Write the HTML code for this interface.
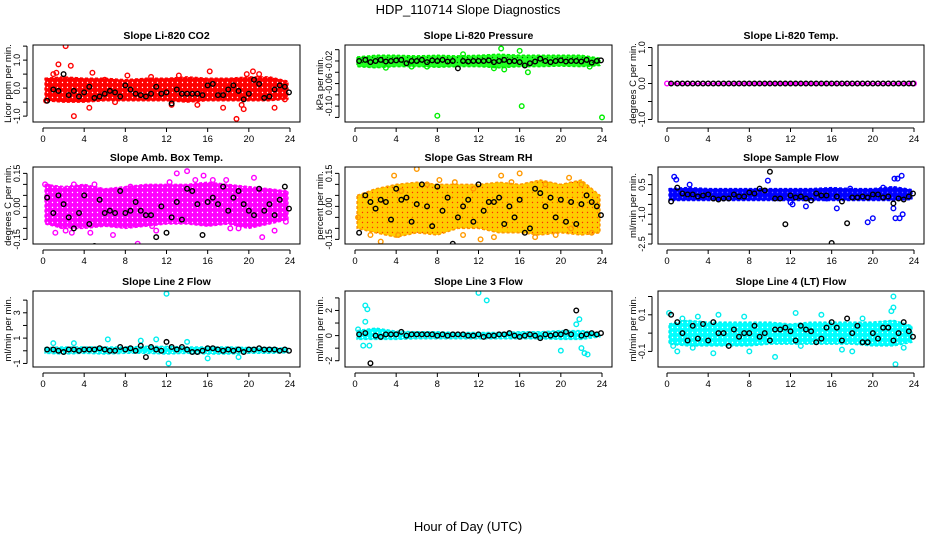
<!DOCTYPE html>
<html><head><meta charset="utf-8"><style>
html,body{margin:0;padding:0;background:#fff}
svg{display:block;font-family:"Liberation Sans",sans-serif}
</style></head><body>
<svg id="chart" width="936" height="540" viewBox="0 0 936 540" xmlns="http://www.w3.org/2000/svg">
<defs id="defs"></defs>
<text x="468" y="14" text-anchor="middle" font-size="13">HDP_110714  Slope Diagnostics</text>
<text x="468" y="531" text-anchor="middle" font-size="13">Hour of Day (UTC)</text>
</svg>
<script>
const xTicks = [0,4,8,12,16,20,24];
const bandHours = [0.2,2,4,6,8,10,12,14,16,18,20,22,23.8];
const blackHours = [0.4,1.0,1.5,2.0,2.5,3.0,3.5,4.0,4.5,5.0,5.5,6.0,6.5,7.0,7.5,8.0,8.5,9.0,9.5,10.0,10.5,11.0,11.5,12.0,12.5,13.0,13.5,14.0,14.5,15.0,15.5,16.0,16.5,17.0,17.5,18.0,18.5,19.0,19.5,20.0,20.5,21.0,21.5,22.0,22.5,23.0,23.5,23.9];

const titles = ["Slope Li-820 CO2","Slope Li-820 Pressure","Slope Li-820 Temp.","Slope Amb. Box Temp.","Slope Gas Stream RH","Slope Sample Flow","Slope Line 2 Flow","Slope Line 3 Flow","Slope Line 4 (LT) Flow"];
const yTitles = ["Licor ppm per min.","kPa per min.","degrees C per min.","degrees C per min.","percent per min.","ml/min per min.","ml/min per min.","ml/min per min.","ml/min per min."];
const yTickVals = [[-1,-0.5,0,0.5,1,1.5],[-0.12,-0.1,-0.08,-0.06,-0.04,-0.02,0],[-1,-0.5,0,0.5,1],[-0.15,-0.1,-0.05,0,0.05,0.1,0.15],[-0.15,-0.1,-0.05,0,0.05,0.1,0.15],[-2.5,-2,-1.5,-1,-0.5,0,0.5,1],[-1,0,1,2,3,4],[-2,-1,0,1,2,3],[-0.1,0,0.1,0.2]];
const yTickLabels = [[["1.0",1],["0.0",0],["-1.0",-1]],[["-0.02",-0.02],["-0.06",-0.06],["-0.10",-0.1]],[["1.0",1],["0.0",0],["-1.0",-1]],[["0.15",0.15],["0.00",0],["-0.15",-0.15]],[["0.15",0.15],["0.00",0],["-0.15",-0.15]],[["0.5",0.5],["-1.0",-1],["-2.5",-2.5]],[["3",3],["1",1],["-1",-1]],[["2",2],["0",0],["-2",-2]],[["0.1",0.1],["-0.1",-0.1]]];

const bandLo1=[-0.45,-0.5,-0.5,-0.45,-0.45,-0.45,-0.45,-0.5,-0.45,-0.45,-0.45,-0.45,-0.4];
const bandHi1=[0.35,0.4,0.35,0.35,0.3,0.35,0.35,0.4,0.35,0.35,0.4,0.4,0.25];
const bandLo2=[-0.03,-0.032,-0.03,-0.03,-0.031,-0.03,-0.03,-0.032,-0.03,-0.03,-0.029,-0.03,-0.028];
const bandHi2=[-0.013,-0.01,-0.01,-0.011,-0.01,-0.011,-0.01,-0.008,-0.01,-0.01,-0.01,-0.01,-0.015];
const bandLo3=[-0.03,-0.03,-0.03,-0.03,-0.03,-0.03,-0.03,-0.03,-0.03,-0.03,-0.03,-0.03,-0.03];
const bandHi3=[0.03,0.03,0.03,0.03,0.03,0.03,0.03,0.03,0.03,0.03,0.03,0.03,0.03];
const bandLo4=[-0.08,-0.1,-0.1,-0.09,-0.1,-0.09,-0.08,-0.08,-0.09,-0.08,-0.1,-0.08,-0.06];
const bandHi4=[0.1,0.09,0.1,0.08,0.09,0.1,0.1,0.1,0.11,0.1,0.09,0.08,0.07];
const bandLo5=[-0.1,-0.12,-0.14,-0.12,-0.13,-0.1,-0.1,-0.12,-0.12,-0.13,-0.12,-0.13,-0.12];
const bandHi5=[0.05,0.08,0.1,0.11,0.1,0.1,0.1,0.11,0.1,0.12,0.1,0.12,0.05];
const bandLo6=[-0.3,-0.3,-0.3,-0.3,-0.3,-0.3,-0.3,-0.3,-0.3,-0.3,-0.3,-0.3,-0.25];
const bandHi6=[0.3,0.35,0.3,0.3,0.3,0.3,0.3,0.3,0.35,0.3,0.3,0.4,0.25];
const bandLo7=[-0.2,-0.25,-0.2,-0.25,-0.2,-0.2,-0.25,-0.2,-0.25,-0.25,-0.2,-0.2,-0.15];
const bandHi7=[0.25,0.3,0.3,0.3,0.3,0.35,0.35,0.3,0.3,0.3,0.25,0.25,0.2];
const bandLo8=[-0.3,-0.3,-0.3,-0.25,-0.25,-0.25,-0.25,-0.25,-0.25,-0.25,-0.3,-0.3,-0.1];
const bandHi8=[0.4,0.6,0.35,0.3,0.3,0.25,0.25,0.25,0.3,0.3,0.4,0.4,0.2];
const bandLo9=[-0.06,-0.07,-0.07,-0.07,-0.07,-0.06,-0.06,-0.06,-0.06,-0.06,-0.07,-0.07,-0.05];
const bandHi9=[0.05,0.07,0.06,0.06,0.06,0.06,0.05,0.06,0.06,0.06,0.06,0.07,0.04];

const ptH1=[1.5,1.3,2.2,2.7,3.0,4.5,4.8,2.4,8.2,13.2,16.2,15.0,17.5,18.8,19.3,19.5,22.5,23.5,12.5,0.3,10.5,21.0,19.8,7.0,11.0,20.4,6.0,1.0];
const ptV1=[0.85,0.55,1.5,0.8,-1.0,-0.7,0.55,-0.35,0.45,0.45,0.6,-0.6,-0.7,-1.1,-0.6,-0.75,-0.7,-0.4,-0.6,-0.45,0.4,0.5,0.5,-0.5,-0.3,0.6,0.3,0.5];
const ptH2=[8.0,16.2,24.0,16.0,10.5,14.2,16.8,14.5,13.5,22.8,7.0,3.0,5.5];
const ptV2=[-0.117,-0.1,-0.12,-0.002,-0.008,0.002,-0.04,-0.035,-0.033,-0.03,-0.03,-0.032,-0.03];
const ptH3=[0.0,24.0];
const ptV3=[0,0];
const ptH4=[0.2,0.5,1.2,1.8,2.2,3.0,4.6,5.0,6.8,9.2,10.6,12.3,13.0,14.0,14.8,15.6,16.5,17.8,19.0,20.5,21.3,22.5,3.3,8.5,11.0,18.2,2.8,23.6];
const ptV4=[0.1,0.09,-0.12,-0.09,-0.11,0.1,-0.12,0.1,-0.13,-0.17,-0.09,0.11,0.15,0.16,0.12,0.14,0.12,0.12,-0.1,0.13,-0.14,-0.11,0.08,0.09,-0.11,-0.1,-0.12,-0.07];
const ptH5=[0.3,1.5,2.5,3.8,4.5,6.0,7.0,8.2,9.7,10.5,11.5,12.2,13.5,15.2,16.0,17.5,18.5,19.5,20.8,22.0,23.0,4.2,14.2,21.0];
const ptV5=[-0.05,-0.13,-0.16,0.14,0.07,0.17,0.1,0.12,0.11,-0.13,0.08,-0.15,-0.14,0.11,0.15,-0.14,0.1,-0.13,0.13,0.1,-0.12,-0.13,0.14,-0.1];
const ptH6=[0.7,0.9,2.2,9.8,12.2,13.5,15.5,16.5,19.5,20.0,22.1,22.4,22.8,22.0,22.2,22.6,22.9,17.8,21.0,12.0];
const ptV6=[0.9,0.75,0.5,0.7,-0.5,-0.6,-0.2,-0.7,-1.4,-1.2,0.8,0.8,0.95,-0.7,-1.2,-1.2,-1.0,0.3,0.35,-0.4];
const ptH7=[12.0,12.2,11.0,1.0,3.0,9.5,16.0,19.0,14.0,6.3];
const ptV7=[4.5,-1.0,0.9,0.6,0.6,0.8,-0.6,-0.5,0.7,0.9];
const ptH8=[1.0,1.2,1.0,1.4,0.8,12.0,12.8,21.5,22.0,22.3,22.6,20.0,0.3,21.8];
const ptV8=[2.4,2.1,1.1,-0.8,-0.8,3.4,2.8,0.9,-1.0,-1.4,-1.5,-1.2,0.5,1.3];
const ptH9=[0.2,0.6,1.0,1.5,2.5,4.5,5.0,7.5,8.0,10.5,12.5,13.0,15.0,17.0,19.0,22.0,22.2,22.0,21.8,23.0,18.0,3.0];
const ptV9=[0.11,-0.07,-0.1,0.08,-0.08,-0.11,0.1,0.09,-0.1,-0.13,0.11,-0.07,0.1,-0.09,0.08,0.2,-0.17,0.14,0.12,-0.08,-0.1,0.09];

const blk1=[-0.45,-0.05,-0.1,0.5,-0.25,-0.1,-0.3,-0.15,0.05,-0.35,-0.3,-0.2,-0.1,-0.15,-0.3,0.1,-0.05,-0.2,-0.25,-0.3,-0.2,0.05,-0.2,-0.15,-0.55,-0.05,-0.2,-0.2,-0.2,-0.2,-0.25,0.1,0.15,-0.25,-0.25,-0.05,0.1,-0.1,-0.4,-0.2,0.3,0.15,-0.35,-0.3,-0.05,0.1,0.05,-0.15];
const blk2=[-0.02,-0.018,-0.022,-0.02,-0.018,-0.021,-0.02,-0.019,-0.018,-0.024,-0.02,-0.02,-0.018,-0.022,-0.019,-0.02,-0.018,-0.021,-0.02,-0.033,-0.02,-0.021,-0.02,-0.02,-0.02,-0.019,-0.022,-0.02,-0.018,-0.021,-0.02,-0.022,-0.028,-0.024,-0.021,-0.016,-0.02,-0.022,-0.02,-0.019,-0.021,-0.02,-0.02,-0.021,-0.018,-0.023,-0.02,-0.019];
const blk3=[0,0,0,0,0,0,0,0,0,0,0,0,0,0,0,0,0,0,0,0,0,0,0,0,0,0,0,0,0,0,0,0,0,0,0,0,0,0,0,0,0,0,0,0,0,0,0,0];
const blk4=[0.04,-0.03,0.05,0.01,-0.05,-0.1,-0.03,0.05,-0.08,-0.18,0.03,-0.03,-0.02,-0.03,0.07,-0.03,-0.02,0.02,-0.02,-0.04,-0.04,-0.14,0.0,-0.12,-0.05,0.02,-0.06,0.08,0.07,0.01,-0.13,0.02,0.04,0.01,0.09,-0.02,0.04,0.07,0.01,-0.02,-0.04,0.08,-0.02,0.01,-0.04,0.03,0.09,-0.01];
const blk5=[-0.12,0.05,0.02,-0.01,0.03,0.02,-0.06,0.08,0.03,0.04,-0.07,0.01,0.1,0.0,-0.09,0.09,-0.02,0.04,-0.17,-0.05,0.0,0.03,-0.07,0.1,-0.02,0.02,0.02,0.04,-0.08,0.0,-0.05,0.03,-0.12,-0.1,0.08,0.06,0.0,0.04,-0.05,0.03,-0.07,0.02,-0.08,0.01,0.05,0.02,0.0,-0.04];
const blk6=[-0.35,0.35,0.05,0.0,0.0,-0.1,-0.05,0.0,-0.2,-0.25,-0.2,-0.2,0.0,-0.1,-0.1,0.1,0.05,0.3,0.2,1.15,-0.2,-0.2,-1.5,-0.05,-0.15,-0.1,-0.2,-0.3,0.05,-0.05,-0.05,-2.45,-0.1,-0.35,-1.45,-0.15,-0.15,-0.1,-0.15,0.0,0.0,-0.15,-0.1,-0.45,-0.2,-0.25,-0.1,0.05];
const blk7=[0.1,0.1,0.0,-0.1,0.1,0.1,0.0,0.1,0.1,0.1,0.2,0.1,0.0,0.0,0.3,0.1,0.2,0.0,0.4,-0.5,0.3,0.1,0.0,0.7,0.3,0.1,0.3,0.1,-0.1,-0.1,0.0,0.2,0.2,0.1,0.0,0.1,0.0,0.1,-0.1,0.1,0.1,0.2,0.1,0.1,0.1,0.0,0.1,0.0];
const blk8=[0.1,0.2,-2.2,0.0,-0.1,0.1,0.1,0.1,0.3,0.0,0.1,0.1,0.1,0.1,0.1,0.0,0.1,0.0,0.1,0.1,0.1,0.0,0.0,0.1,-0.1,0.0,0.0,0.1,0.1,0.2,0.0,-0.1,0.0,0.1,0.0,-0.2,0.1,0.0,0.1,0.1,0.3,0.1,2.0,0.0,0.1,0.2,0.1,0.2];
const blk9=[0.1,0.06,0.0,-0.04,0.04,-0.03,0.05,-0.04,0.06,0.0,0.0,-0.07,0.02,-0.02,0.0,0.0,0.04,-0.02,0.0,-0.04,0.02,0.02,0.03,0.01,-0.04,0.04,0.02,0.01,-0.05,-0.03,0.03,0.06,0.03,-0.04,0.08,0.0,0.04,-0.05,-0.05,0.0,-0.03,0.03,0.03,-0.04,0.0,0.06,0.01,-0.02];

const bandLos=[bandLo1,bandLo2,bandLo3,bandLo4,bandLo5,bandLo6,bandLo7,bandLo8,bandLo9];
const bandHis=[bandHi1,bandHi2,bandHi3,bandHi4,bandHi5,bandHi6,bandHi7,bandHi8,bandHi9];
const ptHs=[ptH1,ptH2,ptH3,ptH4,ptH5,ptH6,ptH7,ptH8,ptH9];
const ptVs=[ptV1,ptV2,ptV3,ptV4,ptV5,ptV6,ptV7,ptV8,ptV9];
const blks=[blk1,blk2,blk3,blk4,blk5,blk6,blk7,blk8,blk9];

const layout=[
 {l:33,r:300,t:45,b:122,x0:43,x1:290,ymin:-1.21,ymax:1.54,c:"#ff0000",f:"#ff0000",d:"#ffffff"},
 {l:345,r:612,t:45,b:122,x0:355,x1:602,ymin:-0.1281,ymax:0.0083,c:"#00ee00",f:"#22ff22",d:"#006600"},
 {l:658,r:924,t:45,b:122,x0:667,x1:914,ymin:-1.07,ymax:1.07,c:"#ff00ff",f:"#ff00ff",d:"#ffffff"},
 {l:33,r:300,t:167,b:244,x0:43,x1:290,ymin:-0.171,ymax:0.179,c:"#ff00ff",f:"#ff00ff",d:"#ffffff"},
 {l:345,r:612,t:167,b:244,x0:355,x1:602,ymin:-0.171,ymax:0.179,c:"#ff9900",f:"#ffcc00",d:"#ff3300"},
 {l:658,r:924,t:167,b:244,x0:667,x1:914,ymin:-2.5,ymax:1.39,c:"#0000ff",f:"#0000ff",d:"#6666ff"},
 {l:33,r:300,t:291,b:367,x0:43,x1:290,ymin:-1.28,ymax:4.72,c:"#00eeee",f:"#00ffff",d:"#ffffff"},
 {l:345,r:612,t:291,b:367,x0:355,x1:602,ymin:-2.5,ymax:3.55,c:"#00eeee",f:"#00ffff",d:"#ffffff"},
 {l:658,r:924,t:291,b:367,x0:667,x1:914,ymin:-0.185,ymax:0.23,c:"#00eeee",f:"#00ffff",d:"#ffffff"}
];
const NS="http://www.w3.org/2000/svg";
const svg=document.getElementById('chart');
const defs=document.getElementById('defs');
function mk(tag,attrs,parent){const e=document.createElementNS(NS,tag);for(const k in attrs)e.setAttribute(k,attrs[k]);(parent||svg).appendChild(e);return e;}

layout.forEach((L,i)=>{
  const pat=mk('pattern',{id:'pat'+i,width:5,height:5,patternUnits:'userSpaceOnUse'},defs);
  mk('rect',{x:0,y:0,width:5,height:5,fill:L.f},pat);
  mk('circle',{cx:2.5,cy:2.5,r:0.7,fill:L.d},pat);
  const g=mk('g',{});
  
  
  const xs=h=>L.x0+(L.x1-L.x0)*h/24;
  const ys=v=>L.b-(v-L.ymin)/(L.ymax-L.ymin)*(L.b-L.t);
  const clip=mk('clipPath',{id:'clip'+i},g);
  mk('rect',{x:L.l,y:L.t,width:L.r-L.l,height:L.b-L.t},clip);
  const pg=mk('g',{'clip-path':'url(#clip'+i+')'},g);
  let pts=[];
  bandHours.forEach((h,k)=>pts.push(xs(h).toFixed(1)+','+ys(bandHis[i][k]).toFixed(1)));
  for(let k=bandHours.length-1;k>=0;k--)pts.push(xs(bandHours[k]).toFixed(1)+','+ys(bandLos[i][k]).toFixed(1));
  const band=mk('polygon',{points:pts.join(' '),fill:'url(#pat'+i+')',stroke:L.c,'stroke-width':1.5,'stroke-dasharray':'3 2','stroke-linejoin':'round'},pg);
  
  
  ptHs[i].forEach((h,k)=>{
    const c=mk('circle',{cx:xs(h),cy:ys(ptVs[i][k]),r:2.3,fill:'none',stroke:L.c,'stroke-width':1.4},pg);
    
    
  });
  blackHours.forEach((h,k)=>{
    const c=mk('circle',{cx:xs(h),cy:ys(blks[i][k]),r:2.3,fill:'none',stroke:'#000','stroke-width':1.4},pg);
    
    
  });
  const box=mk('rect',{x:L.l,y:L.t,width:L.r-L.l,height:L.b-L.t,fill:'none',stroke:'#000','stroke-width':1},g);
  
  
  const t=mk('text',{x:(L.l+L.r)/2,y:L.t-6,'text-anchor':'middle','font-size':10.5,'font-weight':'bold'},g);
  t.textContent=titles[i];
  
  
  mk('line',{x1:xs(0),x2:xs(24),y1:L.b+6,y2:L.b+6,stroke:'#000'},g);
  xTicks.forEach(h=>{
    mk('line',{x1:xs(h),x2:xs(h),y1:L.b+6,y2:L.b+10,stroke:'#000'},g);
    const tx=mk('text',{x:xs(h),y:L.b+20,'text-anchor':'middle','font-size':9.5},g);
    tx.textContent=h;
    
    
  });
  const yt=yTickVals[i];
  const ax=L.l-6;
  mk('line',{x1:ax,x2:ax,y1:ys(yt[0]),y2:ys(yt[yt.length-1]),stroke:'#000'},g);
  yt.forEach(v=>mk('line',{x1:ax-4,x2:ax,y1:ys(v),y2:ys(v),stroke:'#000'},g));
  yTickLabels[i].forEach(([lab,v])=>{
    const tx=mk('text',{x:0,y:0,'text-anchor':'middle','font-size':9,transform:'translate('+(ax-7)+','+ys(v)+') rotate(-90)'},g);
    tx.textContent=lab;
    
    
  });
  const yl=mk('text',{x:0,y:0,'text-anchor':'middle','font-size':9.5,transform:'translate('+(L.l-22)+','+((L.t+L.b)/2)+') rotate(-90)'},g);
  yl.textContent=yTitles[i];
  
  
});
</script>
</body></html>
